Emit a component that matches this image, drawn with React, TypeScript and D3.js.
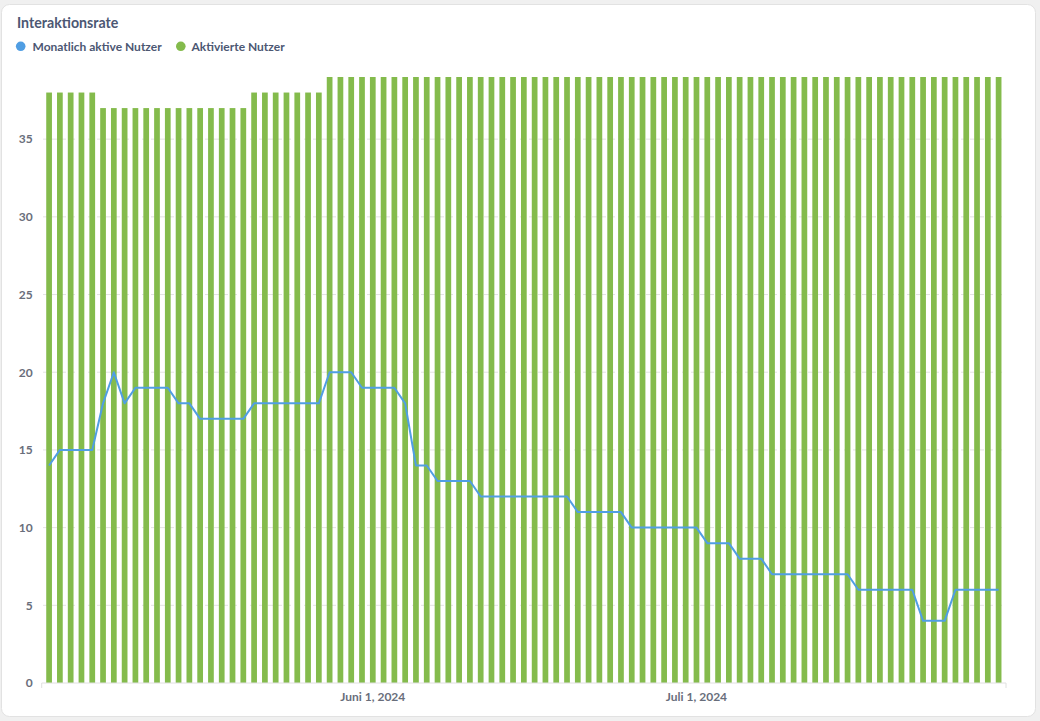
import React from "react";
import * as d3 from "d3";

const title = "Interaktionsrate";
const seriesNames = ["Monatlich aktive Nutzer", "Aktivierte Nutzer"];
const seriesColors = ["#509EE3", "#84BB4C"];

// one category per day, 2 May 2024 .. 29 July 2024
const days: Date[] = d3.timeDay.range(new Date(2024, 4, 2), new Date(2024, 6, 30));

const activeUsers = [
  14, 15, 15, 15, 15, 18, 20, 18, 19, 19,
  19, 19, 18, 18, 17, 17, 17, 17, 17, 18,
  18, 18, 18, 18, 18, 18, 20, 20, 20, 19,
  19, 19, 19, 18, 14, 14, 13, 13, 13, 13,
  12, 12, 12, 12, 12, 12, 12, 12, 12, 11,
  11, 11, 11, 11, 10, 10, 10, 10, 10, 10,
  10, 9, 9, 9, 8, 8, 8, 7, 7, 7,
  7, 7, 7, 7, 7, 6, 6, 6, 6, 6,
  6, 4, 4, 4, 6, 6, 6, 6, 6,
];

const activatedUsers = [
  38, 38, 38, 38, 38, 37, 37, 37, 37, 37,
  37, 37, 37, 37, 37, 37, 37, 37, 37, 38,
  38, 38, 38, 38, 38, 38, 39, 39, 39, 39,
  39, 39, 39, 39, 39, 39, 39, 39, 39, 39,
  39, 39, 39, 39, 39, 39, 39, 39, 39, 39,
  39, 39, 39, 39, 39, 39, 39, 39, 39, 39,
  39, 39, 39, 39, 39, 39, 39, 39, 39, 39,
  39, 39, 39, 39, 39, 39, 39, 39, 39, 39,
  39, 39, 39, 39, 39, 39, 39, 39, 39,
];

const yTicks = [0, 5, 10, 15, 20, 25, 30, 35];
const xTickDates = [new Date(2024, 5, 1), new Date(2024, 6, 1)];
const xTickLabels = ["Juni 1, 2024", "Juli 1, 2024"];

const W = 1040;
const H = 721;
const FONT = "Lato, 'Noto Sans', sans-serif";

export default function App() {
  const keys = days.map((d) => d3.timeFormat("%Y-%m-%d")(d));
  const x = d3
    .scaleBand<string>()
    .domain(keys)
    .range([41.7, 1006])
    .paddingInner(0.47)
    .paddingOuter(0.42);
  const y = d3.scaleLinear().domain([0, 39]).range([683, 77]);
  const bw = x.bandwidth();
  const cx = (i: number) => (x(keys[i]) as number) + bw / 2;

  const line = d3
    .line<number>()
    .x((_, i) => cx(i))
    .y((v) => y(v));

  const labelColor = "#696E7B";
  const textColor = "#4C5773";

  return (
    <div style={{ position: "absolute", left: 0, top: 0 }}>
      <svg width={W} height={H} style={{ display: "block", fontFamily: FONT }}>
        <rect x={0} y={0} width={W} height={H} fill="#F0F0F0" />
        <rect x={1.5} y={4.5} width={1034} height={712} rx={8} fill="#FFFFFF" stroke="#E2E2E2" />
        <text x={17} y={27.5} fontSize={14.2} fontWeight={700} fill={textColor}>
          {title}
        </text>
        {/* legend */}
        <circle cx={20.7} cy={46.3} r={4.8} fill={seriesColors[0]} />
        <text x={32.5} y={50.6} fontSize={12} fontWeight={700} fill={textColor}>
          {seriesNames[0]}
        </text>
        <circle cx={180.8} cy={46.3} r={4.8} fill={seriesColors[1]} />
        <text x={191.5} y={50.6} fontSize={12} fontWeight={700} fill={textColor}>
          {seriesNames[1]}
        </text>
        {/* grid */}
        {yTicks.filter((t) => t > 0).map((t) => (
          <line
            key={"g" + t}
            x1={43}
            x2={1006}
            y1={y(t)}
            y2={y(t)}
            stroke="#E3E3E3"
            strokeDasharray="5 4"
          />
        ))}
        {yTicks.map((t) => (
          <text
            key={"yl" + t}
            x={32.7}
            y={y(t) + 4.3}
            textAnchor="end"
            fontSize={12}
            fontWeight={700}
            fill={labelColor}
          >
            {t}
          </text>
        ))}
        {/* bars */}
        {activatedUsers.map((v, i) => (
          <rect
            key={"b" + i}
            x={x(keys[i])}
            y={y(v)}
            width={bw}
            height={y(0) - y(v)}
            fill={seriesColors[1]}
          />
        ))}
        {/* x axis */}
        <path d="M41.7,688V683H1006V688" fill="none" stroke="#E0E0E0" />
        {xTickDates.map((d, i) => {
          const k = d3.timeFormat("%Y-%m-%d")(d);
          return (
            <text
              key={"xl" + i}
              x={(x(k) as number) + bw / 2}
              y={700.5}
              textAnchor="middle"
              fontSize={12}
              fontWeight={700}
              fill={labelColor}
            >
              {xTickLabels[i]}
            </text>
          );
        })}
        {/* line */}
        <path
          d={line(activeUsers) || ""}
          fill="none"
          stroke={seriesColors[0]}
          strokeWidth={2}
          strokeLinejoin="round"
        />
      </svg>
    </div>
  );
}
